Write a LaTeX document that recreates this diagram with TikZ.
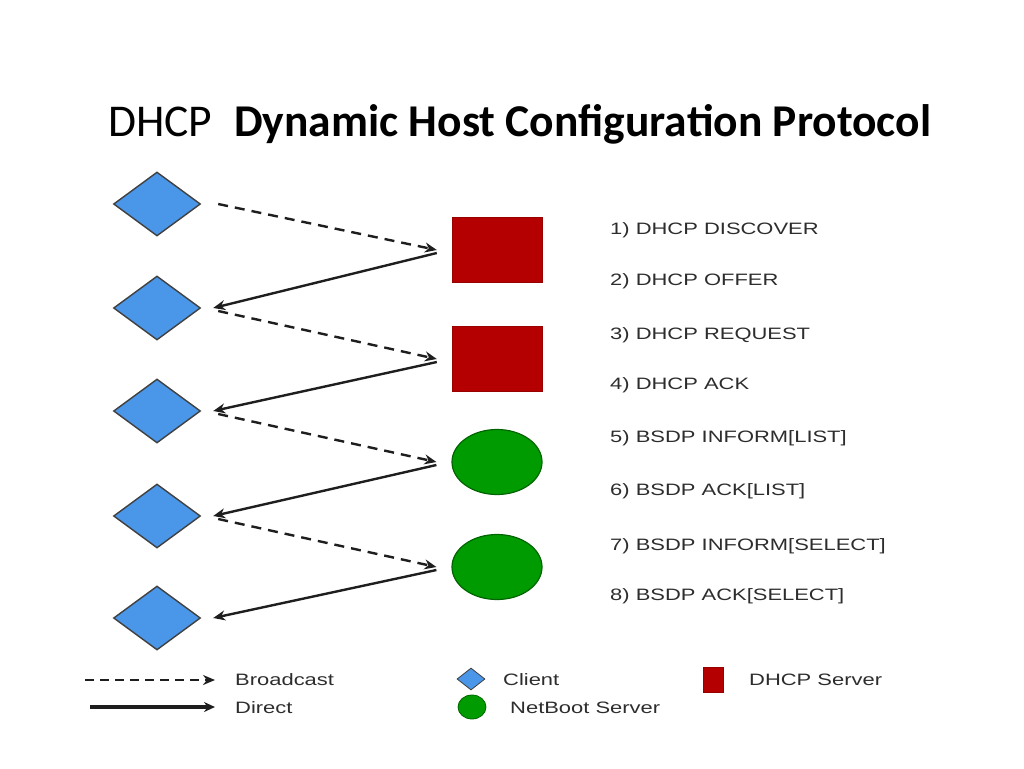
\documentclass[tikz,border=0pt]{standalone}
\usepackage{fontspec}
\setmainfont{Carlito}
\newfontfamily\lblfont[FakeStretch=1.33]{Liberation Sans}
\usepackage{xcolor}
\usetikzlibrary{arrows.meta,shapes.geometric}
\definecolor{clientblue}{RGB}{74,150,232}
\definecolor{dhcpred}{RGB}{180,0,0}
\definecolor{bootgreen}{RGB}{0,155,0}
\definecolor{linegray}{RGB}{30,30,30}
\definecolor{textgray}{RGB}{45,45,45}

\begin{document}
\begin{tikzpicture}[x=1pt,y=-1pt,
  client/.style={diamond,draw=black!75,fill=clientblue,line width=1.4pt,minimum width=87pt,minimum height=64pt,inner sep=0pt},
  dhcp/.style={rectangle,fill=dhcpred,draw=dhcpred!85!black,minimum width=90pt,minimum height=65pt,inner sep=0pt},
  boot/.style={ellipse,fill=bootgreen,draw=bootgreen!65!black,line width=1.2pt,minimum width=90pt,minimum height=65pt,inner sep=0pt},
  bcast/.style={draw=linegray,line width=2.4pt,dash pattern=on 10pt off 7pt,-{Stealth[length=12pt,width=10pt]}},
  direct/.style={draw=linegray,line width=2.4pt,-{Stealth[length=12pt,width=10pt]}},
  msg/.style={anchor=base west,inner sep=0pt,text=textgray,font=\lblfont\fontsize{16.5}{18}\selectfont}]
\useasboundingbox (0,0) rectangle (1024,768);
\node[anchor=base west,inner sep=0pt] (title) at (108,136) {\fontsize{45.5}{50}\selectfont DHCP\hspace{22pt}\bfseries Dynamic Host Configuration Protocol};
% clients and servers
\node[client] (c_1) at (157,204) {};
\node[client] (c_2) at (157,308) {};
\node[client] (c_3) at (157,411) {};
\node[client] (c_4) at (157,516) {};
\node[client] (c_5) at (157,618) {};
\node[dhcp] (s_1) at (497,250) {};
\node[dhcp] (s_2) at (497,359) {};
\node[boot] (n_1) at (497,462) {};
\node[boot] (n_2) at (497,567) {};
% messages
\draw[bcast] ([xshift=17pt]c_1.east) -- ([xshift=-15pt]s_1.west);
\draw[direct] ([xshift=-15pt,yshift=-3pt]s_1.west) -- ([xshift=12pt]c_2.east);
\draw[bcast] ([xshift=17pt,yshift=-3pt]c_2.east) -- ([xshift=-15pt]s_2.west);
\draw[direct] ([xshift=-15pt,yshift=-3pt]s_2.west) -- ([xshift=12pt]c_3.east);
\draw[bcast] ([xshift=17pt,yshift=-3pt]c_3.east) -- ([xshift=-15pt]n_1.west);
\draw[direct] ([xshift=-15pt,yshift=-3pt]n_1.west) -- ([xshift=12pt]c_4.east);
\draw[bcast] ([xshift=17pt,yshift=-3pt]c_4.east) -- ([xshift=-15pt]n_2.west);
\draw[direct] ([xshift=-15pt,yshift=-3pt]n_2.west) -- ([xshift=12pt]c_5.east);
\node[msg] (m_1) at (610,234) {1) DHCP DISCOVER};
\node[msg] (m_2) at (610,285) {2) DHCP OFFER};
\node[msg] (m_3) at (610,339) {3) DHCP REQUEST};
\node[msg] (m_4) at (610,389) {4) DHCP ACK};
\node[msg] (m_5) at (610,442) {5) BSDP INFORM[LIST]};
\node[msg] (m_6) at (610,495) {6) BSDP ACK[LIST]};
\node[msg] (m_7) at (610,550) {7) BSDP INFORM[SELECT]};
\node[msg] (m_8) at (610,600) {8) BSDP ACK[SELECT]};
% legend
\coordinate (b_0) at (85,680);
\coordinate (b_1) at (215,680);
\coordinate (d_0) at (90,707);
\coordinate (d_1) at (215,707);
\draw[bcast,line width=2pt,dash pattern=on 9pt off 6pt] (b_0) -- (b_1);
\draw[direct,line width=3.4pt,-{Stealth[length=11pt,width=10pt]}] (d_0) -- (d_1);
\node[msg] (l_b) at (235,685) {Broadcast};
\node[msg] (l_d) at (235,713) {Direct};
\node[client,minimum width=28pt,minimum height=22pt,line width=0.8pt] (k_c) at (471,679) {};
\node[msg] (l_c) at (503,685) {Client};
\node[boot,minimum width=28pt,minimum height=24pt,line width=0.8pt] (k_n) at (472,707) {};
\node[msg] (l_n) at (510,713) {NetBoot Server};
\node[dhcp,minimum width=20pt,minimum height=25pt] (k_s) at (713,680) {};
\node[msg] (l_s) at (749,685) {DHCP Server};
\end{tikzpicture}
\end{document}
